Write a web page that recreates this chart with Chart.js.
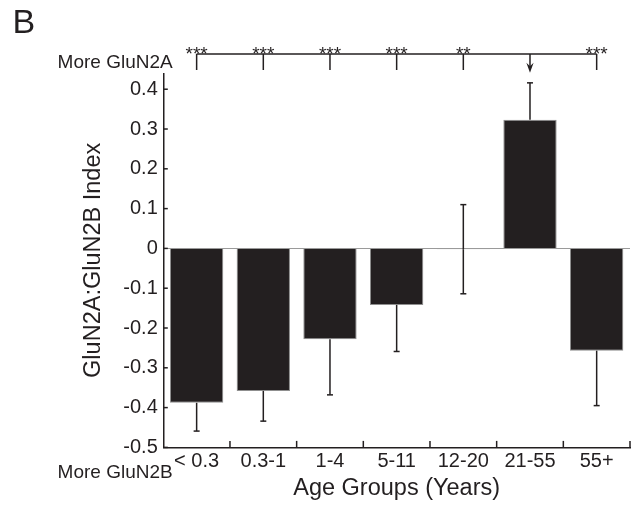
<!DOCTYPE html>
<html>
<head>
<meta charset="utf-8">
<script src="https://cdn.jsdelivr.net/npm/chart.js@4.4.1/dist/chart.umd.min.js"></script>
<style>
  html, body { margin: 0; padding: 0; background: #fff; }
  canvas { display: block; }
</style>
</head>
<body>
<canvas id="chart" width="642" height="510"></canvas>
<script>
// Age groups and the GluN2A:GluN2B index per group (mean and SEM)
const ageGroups = ['< 0.3', '0.3-1', '1-4', '5-11', '12-20', '21-55', '55+'];
const indexMeans = [-0.388, -0.358, -0.228, -0.142, -0.002, 0.323, -0.257];
const indexSem = [0.071, 0.076, 0.140, 0.117, 0.112, 0.093, 0.138];
// Significance of each group versus the 21-55 group
const significance = ['***', '***', '***', '***', '**', '', '***'];
const comparisonGroup = '21-55';
const yTickValues = [-0.5, -0.4, -0.3, -0.2, -0.1, 0, 0.1, 0.2, 0.3, 0.4];

const INK = '#231f20';
const FONT = "'Liberation Sans', Arial, Helvetica, sans-serif";
Chart.defaults.font.family = FONT;
Chart.defaults.color = INK;

function seg(ctx, x1, y1, x2, y2) {
  ctx.beginPath();
  ctx.moveTo(x1, y1);
  ctx.lineTo(x2, y2);
  ctx.stroke();
}

// Error bars, inward axis ticks, the significance bracket and side notes
const annotations = {
  id: 'annotations',
  afterDatasetsDraw(chart) {
    const { ctx, scales: { x, y } } = chart;
    ctx.save();
    ctx.strokeStyle = INK;
    ctx.lineWidth = 1.5;
    // whiskers point away from zero; a near-zero mean gets both sides
    indexMeans.forEach((m, i) => {
      const cx = x.getPixelForValue(i);
      const base = y.getPixelForValue(m);
      const ends = Math.abs(m) < 0.01
        ? [m - indexSem[i], m + indexSem[i]]
        : [m + Math.sign(m) * indexSem[i]];
      ends.forEach(v => {
        const py = y.getPixelForValue(v);
        seg(ctx, cx, base, cx, py);
        seg(ctx, cx - 3, py, cx + 3, py);
      });
    });
    ctx.restore();
  },
  afterDraw(chart) {
    const { ctx, chartArea: a, scales: { x, y } } = chart;
    ctx.save();
    ctx.strokeStyle = INK;
    ctx.fillStyle = INK;
    ctx.lineWidth = 1.5;

    // y ticks pointing into the plot
    yTickValues.forEach(v => {
      const py = y.getPixelForValue(v);
      seg(ctx, a.left, py, a.left + 4.5, py);
    });
    // x ticks at the category boundaries, pointing up
    for (let i = 0; i < ageGroups.length; i++) {
      const bx = i < ageGroups.length - 1
        ? (x.getPixelForValue(i) + x.getPixelForValue(i + 1)) / 2
        : a.right;
      seg(ctx, bx, a.bottom, bx, a.bottom - 6.5);
    }

    // significance bracket above the plot
    const lineY = a.top - 19.3;
    const tickEnd = a.top - 3.3;
    const first = x.getPixelForValue(0);
    const last = x.getPixelForValue(ageGroups.length - 1);
    seg(ctx, first, lineY, last, lineY);
    ctx.font = `19px ${FONT}`;
    ctx.textAlign = 'center';
    ctx.textBaseline = 'alphabetic';
    ageGroups.forEach((g, i) => {
      const cx = x.getPixelForValue(i);
      if (g === comparisonGroup) {
        const tip = a.top - 0.6;
        seg(ctx, cx, lineY, cx, tip - 6);
        ctx.beginPath();
        ctx.moveTo(cx - 3.6, tip - 10);
        ctx.lineTo(cx, tip - 6.5);
        ctx.lineTo(cx + 3.6, tip - 10);
        ctx.lineTo(cx, tip);
        ctx.closePath();
        ctx.fill();
      } else {
        seg(ctx, cx, lineY, cx, tickEnd);
      }
      if (significance[i]) ctx.fillText(significance[i], cx, a.top - 13.3);
    });

    // direction notes beside the y axis
    ctx.font = `19px ${FONT}`;
    ctx.textAlign = 'right';
    ctx.fillText('More GluN2A', 172.7, 68);
    ctx.fillText('More GluN2B', 172.7, 478.3);

    // panel letter
    ctx.font = `34px ${FONT}`;
    ctx.textAlign = 'left';
    ctx.fillText('B', 12.5, 33.3);
    ctx.restore();
  }
};

new Chart(document.getElementById('chart'), {
  type: 'bar',
  data: {
    labels: ageGroups,
    datasets: [{
      data: indexMeans,
      backgroundColor: INK,
      borderColor: '#8f8f8f',
      borderWidth: 1,
      barPercentage: 0.8,
      categoryPercentage: 1.0
    }]
  },
  options: {
    responsive: false,
    animation: false,
    devicePixelRatio: 1,
    layout: { padding: { left: 0, right: 12, top: 73.3, bottom: 0 } },
    plugins: { legend: { display: false }, tooltip: { enabled: false } },
    scales: {
      x: {
        offset: true,
        afterFit: s => { s.height = 62.6; },
        grid: { display: false, drawTicks: false },
        border: { color: INK, width: 1.5 },
        ticks: {
          font: { size: 20 }, color: INK, padding: 1.6,
          maxRotation: 0, autoSkip: false
        },
        title: {
          display: true, text: 'Age Groups (Years)', color: INK,
          font: { size: 23.5 }, padding: { top: 0, bottom: 7.3 }
        }
      },
      y: {
        min: -0.5,
        max: 0.44,
        afterBuildTicks: s => { s.ticks = yTickValues.map(v => ({ value: v })); },
        afterFit: s => { s.width = 163.3; },
        grid: {
          drawTicks: false,
          color: c => (c.tick && c.tick.value === 0 ? '#9a9a9a' : 'rgba(0,0,0,0)'),
          lineWidth: 1
        },
        border: { color: INK, width: 1.5 },
        ticks: {
          font: { size: 20 }, color: INK, padding: 5.5,
          callback: v => (v === 0 ? '0' : v.toFixed(1))
        },
        title: {
          display: true, text: 'GluN2A:GluN2B Index', color: INK,
          font: { size: 23.5 }, padding: { top: 79.5, bottom: 0 }
        }
      }
    }
  },
  plugins: [annotations]
});
</script>
</body>
</html>
